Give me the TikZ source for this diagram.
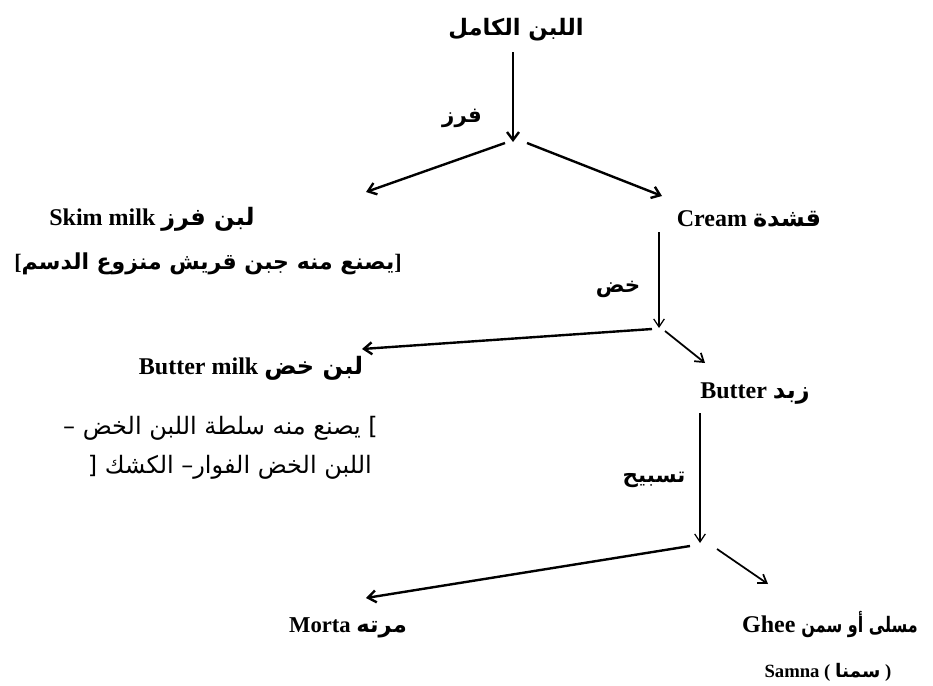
\documentclass[tikz,border=0pt]{standalone}
\usepackage{fontspec}
\setmainfont{Liberation Serif}
\newfontfamily\ar[Script=Arabic]{DejaVu Sans}
\newfontfamily\arn[Script=Arabic,FakeStretch=0.75]{DejaVu Sans}
\TeXXeTstate=1
\usetikzlibrary{arrows.meta}
\begin{document}
\begin{tikzpicture}[x=0.75pt,y=-0.75pt,
  txt/.style={inner sep=0pt, font=\fontsize{18}{20}\selectfont\bfseries},
  artxt/.style={inner sep=0pt, font=\fontsize{17}{20}\selectfont\ar},
  procl/.style={inner sep=0pt, font=\fontsize{16}{20}\selectfont\ar\bfseries},
  thick arrow/.style={-{Straight Barb[length=6pt,width=9pt]}, line width=1.8pt},
  thin arrow/.style={-{Straight Barb[length=6pt,width=8pt]}, line width=0.9pt},
  mid arrow/.style={-{Straight Barb[length=6pt,width=8pt]}, line width=1.3pt}]
\useasboundingbox (0,0) rectangle (933,686);
\fill[white] (0,0) rectangle (933,686);

% nodes
\node[artxt, font=\fontsize{17}{20}\selectfont\ar\bfseries] (whole) at (516,30) {\beginR اللبن الكامل\endR};
\node[procl] (farz) at (462,118) {فرز};
\node[txt] (skim) at (152,219) {Skim milk {\ar\beginR لبن فرز\endR}};
\node[txt, font=\fontsize{16.5}{20}\selectfont\bfseries] (skimnote) at (208,264) {[{\ar\beginR يصنع منه جبن قريش منزوع الدسم\endR}]};
\node[txt] (cream) at (749,219) {Cream {\ar قشدة}};
\node[procl] (khad) at (618,289) {خض};
\node[txt] (butter) at (755,394) {Butter {\ar زبد}};
\node[txt] (bm) at (251,368) {Butter milk {\ar\beginR لبن خض\endR}};
\node[artxt, font=\fontsize{18}{20}\selectfont\ar, anchor=east] (bmnote1) at (378,428) {– \beginR يصنع منه سلطة اللبن الخض\endR\ ]};
\node[artxt, font=\fontsize{18}{20}\selectfont\ar, anchor=east] (bmnote2) at (372,467) {[ \beginR الكشك\endR{} –\beginR اللبن الخض الفوار\endR};
\node[procl] (tasbih) at (654,480) {تسبيح};
\node[txt, font=\fontsize{17}{20}\selectfont\bfseries] (morta) at (348,628) {Morta {\ar مرته}};
\node[txt, anchor=east] (ghee) at (918,625) {Ghee {\fontsize{16}{20}\selectfont\arn\beginR مسلى أو سمن\endR}};
\node[txt, font=\fontsize{14}{18}\selectfont\bfseries] (samna) at (828,672) {Samna ( {\ar سمنا} )};

% connector end points
\coordinate (a1s) at (513,52);
\coordinate (a1e) at (513,142);
\coordinate (l1s) at (505,143);
\coordinate (l1e) at (366,192);
\coordinate (r1s) at (527,143);
\coordinate (r1e) at (662,196);
\coordinate (a2s) at (659,232);
\coordinate (a2e) at (659,328);
\coordinate (l2s) at (652,329);
\coordinate (l2e) at (362,349);
\coordinate (r2s) at (665,331);
\coordinate (r2e) at (705,363);
\coordinate (a3s) at (700,413);
\coordinate (a3e) at (700,543);
\coordinate (l3s) at (690,546);
\coordinate (l3e) at (366,598);
\coordinate (r3s) at (717,549);
\coordinate (r3e) at (768,584);

\draw[thick arrow] (a1s) -- (a1e);
\draw[thick arrow] (l1s) -- (l1e);
\draw[thick arrow] (r1s) -- (r1e);
\draw[thin arrow] (a2s) -- (a2e);
\draw[thick arrow] (l2s) -- (l2e);
\draw[mid arrow] (r2s) -- (r2e);
\draw[thin arrow] (a3s) -- (a3e);
\draw[thick arrow] (l3s) -- (l3e);
\draw[mid arrow] (r3s) -- (r3e);
\end{tikzpicture}
\end{document}
